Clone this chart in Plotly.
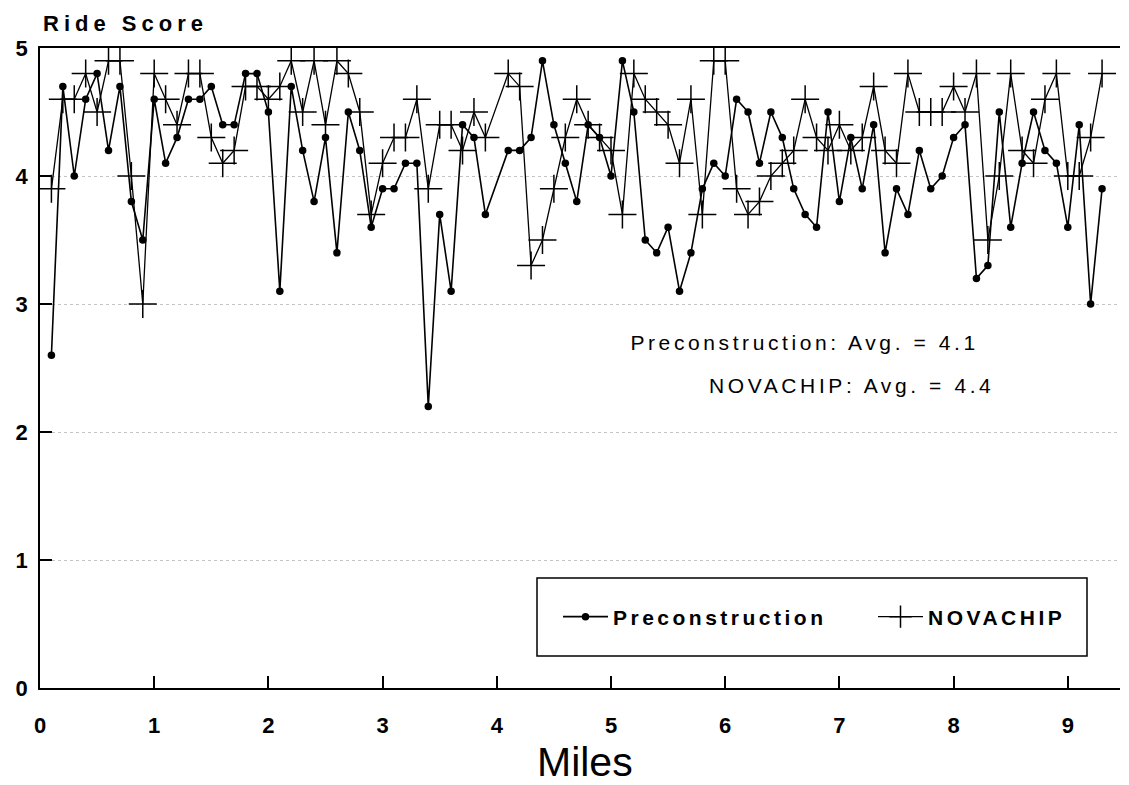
import plotly.graph_objects as go

# ---- data ----
miles = [0.1, 0.2, 0.3, 0.4, 0.5, 0.6, 0.7, 0.8, 0.9, 1.0,
         1.1, 1.2, 1.3, 1.4, 1.5, 1.6, 1.7, 1.8, 1.9, 2.0,
         2.1, 2.2, 2.3, 2.4, 2.5, 2.6, 2.7, 2.8, 2.9, 3.0,
         3.1, 3.2, 3.3, 3.4, 3.5, 3.6, 3.7, 3.8, 3.9,
         4.1, 4.2, 4.3, 4.4, 4.5, 4.6, 4.7, 4.8, 4.9, 5.0,
         5.1, 5.2, 5.3, 5.4, 5.5, 5.6, 5.7, 5.8, 5.9, 6.0,
         6.1, 6.2, 6.3, 6.4, 6.5, 6.6, 6.7, 6.8, 6.9, 7.0,
         7.1, 7.2, 7.3, 7.4, 7.5, 7.6, 7.7, 7.8, 7.9, 8.0,
         8.1, 8.2, 8.3, 8.4, 8.5, 8.6, 8.7, 8.8, 8.9, 9.0,
         9.1, 9.2, 9.3]

preconstruction = [2.6, 4.7, 4.0, 4.6, 4.8, 4.2, 4.7, 3.8, 3.5, 4.6,
                   4.1, 4.3, 4.6, 4.6, 4.7, 4.4, 4.4, 4.8, 4.8, 4.5,
                   3.1, 4.7, 4.2, 3.8, 4.3, 3.4, 4.5, 4.2, 3.6, 3.9,
                   3.9, 4.1, 4.1, 2.2, 3.7, 3.1, 4.4, 4.3, 3.7,
                   4.2, 4.2, 4.3, 4.9, 4.4, 4.1, 3.8, 4.4, 4.3, 4.0,
                   4.9, 4.5, 3.5, 3.4, 3.6, 3.1, 3.4, 3.9, 4.1, 4.0,
                   4.6, 4.5, 4.1, 4.5, 4.3, 3.9, 3.7, 3.6, 4.5, 3.8,
                   4.3, 3.9, 4.4, 3.4, 3.9, 3.7, 4.2, 3.9, 4.0, 4.3,
                   4.4, 3.2, 3.3, 4.5, 3.6, 4.1, 4.5, 4.2, 4.1, 3.6,
                   4.4, 3.0, 3.9]

novachip = [3.9, 4.6, 4.6, 4.8, 4.5, 4.9, 4.9, 4.0, 3.0, 4.8,
            4.6, 4.4, 4.8, 4.8, 4.3, 4.1, 4.2, 4.7, 4.7, 4.6,
            4.7, 4.9, 4.5, 4.9, 4.4, 4.9, 4.8, 4.5, 3.7, 4.1,
            4.3, 4.3, 4.6, 3.9, 4.4, 4.4, 4.2, 4.5, 4.3,
            4.8, 4.7, 3.3, 3.5, 3.9, 4.3, 4.6, 4.4, 4.3, 4.2,
            3.7, 4.8, 4.6, 4.5, 4.4, 4.1, 4.6, 3.7, 4.9, 4.9,
            3.9, 3.7, 3.8, 4.0, 4.1, 4.2, 4.6, 4.3, 4.2, 4.4,
            4.2, 4.3, 4.7, 4.2, 4.1, 4.8, 4.5, 4.5, 4.5, 4.7,
            4.5, 4.8, 3.5, 4.0, 4.8, 4.2, 4.1, 4.6, 4.8, 4.0,
            4.0, 4.3, 4.8]

x_ticks = [0, 1, 2, 3, 4, 5, 6, 7, 8, 9]
y_ticks = [0, 1, 2, 3, 4, 5]
avg_texts = ["Preconstruction: Avg. = 4.1", "NOVACHIP: Avg. = 4.4"]

FONT = "Liberation Sans, Arial, Helvetica, sans-serif"

# plot area in page pixels: left 40, right 1120, top 48, bottom 688
L, R, T, B = 40, 1120, 48, 688
PW, PH = R - L, B - T


def px(xp):
    return (xp - L) / PW


def py(yp):
    return (B - yp) / PH


fig = go.Figure()
fig.add_trace(go.Scatter(
    x=miles, y=preconstruction, name="Preconstruction",
    mode="lines+markers",
    line=dict(color="black", width=1.6),
    marker=dict(symbol="circle", size=7.5, color="black"),
))
fig.add_trace(go.Scatter(
    x=miles, y=novachip, name="NOVACHIP",
    mode="lines+markers",
    line=dict(color="black", width=1.3),
    marker=dict(symbol="cross-thin", size=20, color="black",
                line=dict(color="black", width=1.5)),
))

fig.update_layout(
    width=1129, height=785,
    margin=dict(l=L, r=1129 - R, t=T, b=785 - B, autoexpand=False),
    paper_bgcolor="white", plot_bgcolor="white",
    font=dict(family=FONT, color="black"),
    showlegend=True,
    legend=dict(
        orientation="h", x=px(558), xanchor="left", y=py(617), yanchor="middle",
        bgcolor="rgba(0,0,0,0)", borderwidth=0,
        font=dict(family=FONT, size=21, color="black", weight="bold"),
        itemwidth=45, entrywidth=255, entrywidthmode="pixels",
    ),
    xaxis=dict(
        range=[0, PW / 114.2], tickvals=x_ticks, ticktext=[str(v) for v in x_ticks],
        showgrid=False, zeroline=False,
        showline=True, linecolor="black", linewidth=1.8, mirror=True,
        ticks="inside", ticklen=12, tickwidth=1.5, tickcolor="black",
        tickfont=dict(family=FONT, size=22, color="black", weight="bold"),
        ticklabelstandoff=17,
    ),
    yaxis=dict(
        range=[0, 5], tickvals=y_ticks, ticktext=[str(v) for v in y_ticks],
        showgrid=True, gridcolor="#c4c4c4", gridwidth=1, griddash="dot",
        zeroline=False,
        showline=True, linecolor="black", linewidth=1.8,
        ticks="inside", ticklen=12, tickwidth=1.5, tickcolor="black",
        tickfont=dict(family=FONT, size=22, color="black", weight="bold"),
        ticklabelstandoff=6,
    ),
)

# legend frame
fig.add_shape(type="rect", xref="paper", yref="paper",
              x0=px(537), x1=px(1087), y0=py(656), y1=py(578),
              line=dict(color="black", width=1.5), fillcolor="rgba(0,0,0,0)")

fig.add_annotation(text="Ride Score", xref="paper", yref="paper",
                   x=px(125), y=py(23),
                   xanchor="center", yanchor="middle", showarrow=False,
                   font=dict(family=FONT, size=22, color="black", weight="bold"))
fig.add_annotation(text="Miles", xref="paper", yref="paper",
                   x=px(585), y=py(761.5), borderpad=0,
                   xanchor="center", yanchor="middle", showarrow=False,
                   font=dict(family=FONT, size=41, color="black"))
fig.add_annotation(text=avg_texts[0], xref="paper", yref="paper",
                   x=px(804), y=py(342),
                   xanchor="center", yanchor="middle", showarrow=False,
                   font=dict(family=FONT, size=21, color="black"))
fig.add_annotation(text=avg_texts[1], xref="paper", yref="paper",
                   x=px(852), y=py(385),
                   xanchor="center", yanchor="middle", showarrow=False,
                   font=dict(family=FONT, size=21, color="black"))

post_js = """
document.body.style.margin = '0';
(function () {
  var gd = document.getElementById('{plot_id}');
  function apply() {
    var sp = {0: '5px', 1: '0px', 2: '3.6px', 3: '3.6px'};
    gd.querySelectorAll('.annotation').forEach(function (g) {
      var i = g.getAttribute('data-index');
      var t = g.querySelector('.annotation-text');
      if (t && sp[i] !== undefined) { t.style.letterSpacing = sp[i]; }
    });
    gd.querySelectorAll('.legendtext').forEach(function (t) {
      t.style.letterSpacing = '3.5px';
    });
  }
  apply();
  if (gd.on) { gd.on('plotly_afterplot', apply); }
  setTimeout(apply, 50);
})();
"""

fig.write_html("out.html", post_script=post_js, config={"displayModeBar": False})
